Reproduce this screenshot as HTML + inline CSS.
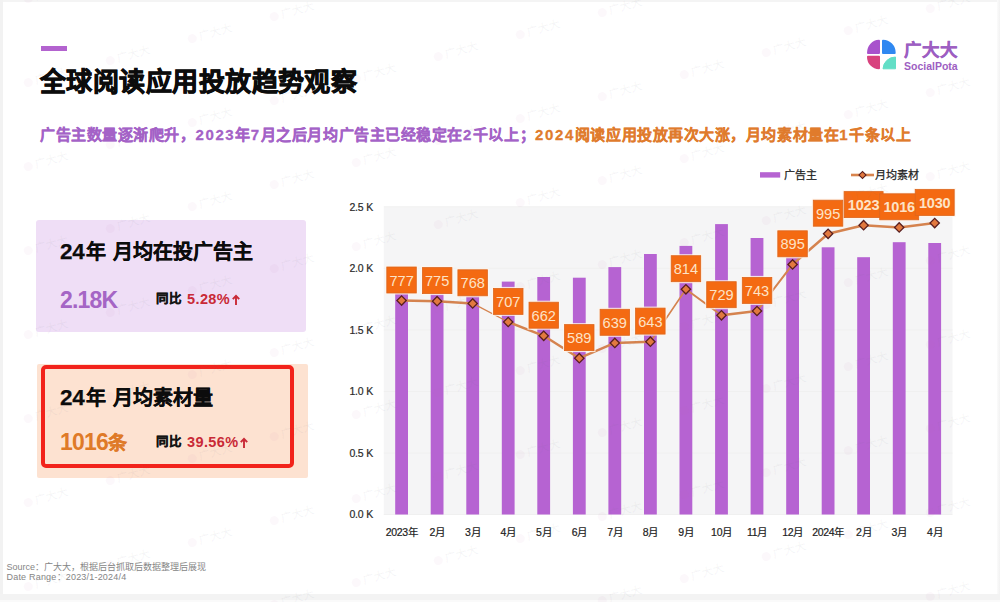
<!DOCTYPE html>
<html lang="zh-CN"><head><meta charset="utf-8">
<style>
*{margin:0;padding:0;box-sizing:border-box}
html,body{width:1000px;height:602px;overflow:hidden;background:#fff}
body{position:relative;font-family:"Liberation Sans",sans-serif;color:#111}
.abs{position:absolute;white-space:nowrap}
.frame-t{position:absolute;left:0;top:0;width:1000px;height:1.5px;background:#f4f4f4}
.frame-l{position:absolute;left:0;top:0;width:2.5px;height:602px;background:#f2f2f2}
.frame-r{position:absolute;right:0;top:0;width:3px;height:602px;background:linear-gradient(90deg,#fbfbfb,#f2f2f2)}
.frame-b{position:absolute;left:0;top:594px;width:1000px;height:8px;background:#f3f3f3;border-bottom:2.5px solid #fafafa}
.bar{left:41px;top:45.5px;width:25.5px;height:5px;background:#b363cf}
.title{left:40px;top:64px;font-size:26px;letter-spacing:0.45px;font-weight:700;-webkit-text-stroke:0.8px #0c0c0c;line-height:36px;color:#0c0c0c}
.sub{left:40px;top:124px;font-size:15px;letter-spacing:0.55px;font-weight:bold;line-height:22px;-webkit-text-stroke:0.28px currentColor}
.sub i{font-style:normal;letter-spacing:1.6px} .sub .p{color:#a462c7} .sub .o{color:#e07b2c}
.card1{left:36.3px;top:220.3px;width:270.2px;height:112px;background:#efdef6;border-radius:3px}
.card2{left:37px;top:364px;width:270.8px;height:114.3px;background:#fde2d1;border-radius:2px}
.card2b{left:41.3px;top:365px;width:252.8px;height:102.9px;border:4.2px solid #f2231b;border-radius:5px}
.ct b{font-size:22.5px;letter-spacing:-0.2px;margin-right:1.5px} .sp{display:inline-block;width:7px} .ct{font-size:20px;letter-spacing:0px;font-weight:bold;line-height:24px;color:#0c0c0c;-webkit-text-stroke:0.25px #0c0c0c}
.big{font-size:23px;font-weight:bold;line-height:28px;letter-spacing:-0.8px} .tiao{font-size:19px;letter-spacing:0;-webkit-text-stroke:0.3px currentColor;margin-left:0px;vertical-align:0px}
.tb{font-size:12.5px;font-weight:bold;line-height:18px;color:#141414;-webkit-text-stroke:0.35px #141414}
.red{color:#c92a37;font-size:14.5px;font-weight:bold;line-height:18px;letter-spacing:0.4px} .red svg{display:inline-block;vertical-align:-0.5px;margin-left:1.5px}
.foot{left:6.5px;font-size:9px;line-height:11px;color:#858585}
svg text{font-family:"Liberation Sans",sans-serif}
.yl{font-size:10.5px;fill:#2a2a2a;stroke:#2a2a2a;stroke-width:0.2px;letter-spacing:-0.2px}
.xl{font-size:10.5px;fill:#222;stroke:#222;stroke-width:0.2px;letter-spacing:-0.3px}
.lb3{font-size:14.6px;fill:#fde3c6;letter-spacing:0px}
.lb4{font-size:14.5px;font-weight:bold;fill:#fde3c6;letter-spacing:-0.2px}
.lg{font-size:11px;fill:#222;stroke:#222;stroke-width:0.25px}
.wm{position:absolute;width:48px;height:14px;font-size:11px;line-height:14px;color:rgba(110,110,130,0.06);transform:rotate(-15deg);white-space:nowrap;font-weight:bold} .wm i{display:inline-block;width:9px;height:9px;border-radius:50%;background:rgba(200,120,170,0.05);margin-right:3px;vertical-align:-1px}
.logo-t{left:904px;top:37.5px;font-size:17.5px;font-weight:bold;color:#9d5ec2;line-height:24px;letter-spacing:0.8px;-webkit-text-stroke:0.3px #9d5ec2}
.logo-s{left:904px;top:59.5px;font-size:10.5px;font-weight:bold;color:#9d5ec2;line-height:12px}
</style></head><body>
<div class="frame-t"></div><div class="frame-l"></div><div class="frame-r"></div><div class="frame-b"></div>
<div class="abs bar"></div>
<div class="abs title">全球阅读应用投放趋势观察</div>
<div class="abs sub"><span class="p">广告主数量逐渐爬升，<i>2023</i>年<i>7</i>月之后月均广告主已经稳定在<i>2</i>千以上；</span><span class="o"><i>2024</i>阅读应用投放再次大涨，月均素材量在<i>1</i>千条以上</span></div>

<svg class="abs" style="left:862px;top:35px" width="40" height="40" viewBox="0 0 40 40">
<g stroke-width="2" stroke-linejoin="round">
<path d="M17,18 L6,18 A11,12.3 0 0 1 17,5.7 Z" fill="#a852cc" stroke="#a852cc"/>
<path d="M21,18 L21,5.7 A11.7,12.3 0 0 1 32.7,18 Z" fill="#2f88f1" stroke="#2f88f1"/>
<path d="M17,21.7 L6,21.7 A11,11.6 0 0 0 17,33.3 Z" fill="#d8437e" stroke="#d8437e"/>
<path d="M33.5,22 A12.5,12.3 0 0 0 21,33.8 L33.5,33.8 Z" fill="#62dec6" stroke="#62dec6" stroke-width="1"/>
</g>
</svg>
<div class="abs logo-t">广大大</div>
<div class="abs logo-s">SocialPota</div>

<div class="abs card1"></div>
<div class="abs ct" style="left:60px;top:240px"><b>24</b>年<span class="sp"></span>月均在投广告主</div>
<div class="abs big" style="left:60px;top:286px;color:#a565c5">2.18K</div>
<div class="abs tb" style="left:156px;top:290px">同比</div>
<div class="abs red" style="left:187px;top:290px">5.28%<svg width="8" height="11" viewBox="0 0 8 11"><path d="M4 11 V2 M0.8 5.2 L4 1.8 L7.2 5.2" fill="none" stroke="#c92a37" stroke-width="1.9"/></svg></div>

<div class="abs card2"></div>
<div class="abs card2b"></div>
<div class="abs ct" style="left:60px;top:386px"><b>24</b>年<span class="sp"></span>月均素材量</div>
<div class="abs big" style="left:60px;top:428px;color:#df7a28">1016<span class="tiao">条</span></div>
<div class="abs tb" style="left:156px;top:433px">同比</div>
<div class="abs red" style="left:187px;top:433px">39.56%<svg width="8" height="11" viewBox="0 0 8 11"><path d="M4 11 V2 M0.8 5.2 L4 1.8 L7.2 5.2" fill="none" stroke="#c92a37" stroke-width="1.9"/></svg></div>

<svg class="abs" style="left:0;top:0" width="1000" height="602" viewBox="0 0 1000 602">
<rect x="383.8" y="206.8" width="568.7" height="307.7" fill="#f5f5f6"/>
<line x1="383.8" x2="952.5" y1="514.5" y2="514.5" stroke="#f0f0f0" stroke-width="1"/>
<text x="373" y="518.3" text-anchor="end" class="yl">0.0 K</text>
<line x1="383.8" x2="952.5" y1="453.0" y2="453.0" stroke="#f0f0f0" stroke-width="1"/>
<text x="373" y="456.8" text-anchor="end" class="yl">0.5 K</text>
<line x1="383.8" x2="952.5" y1="391.4" y2="391.4" stroke="#f0f0f0" stroke-width="1"/>
<text x="373" y="395.2" text-anchor="end" class="yl">1.0 K</text>
<line x1="383.8" x2="952.5" y1="329.9" y2="329.9" stroke="#f0f0f0" stroke-width="1"/>
<text x="373" y="333.7" text-anchor="end" class="yl">1.5 K</text>
<line x1="383.8" x2="952.5" y1="268.3" y2="268.3" stroke="#f0f0f0" stroke-width="1"/>
<text x="373" y="272.1" text-anchor="end" class="yl">2.0 K</text>
<line x1="383.8" x2="952.5" y1="206.8" y2="206.8" stroke="#f0f0f0" stroke-width="1"/>
<text x="373" y="210.6" text-anchor="end" class="yl">2.5 K</text>
<rect x="395.2" y="278" width="12.8" height="236.5" fill="#b663d2"/>
<text x="401.6" y="536" text-anchor="middle" class="xl">2023年</text>
<rect x="430.7" y="279" width="12.8" height="235.5" fill="#b663d2"/>
<text x="437.1" y="536" text-anchor="middle" class="xl">2月</text>
<rect x="466.3" y="281" width="12.8" height="233.5" fill="#b663d2"/>
<text x="472.7" y="536" text-anchor="middle" class="xl">3月</text>
<rect x="501.8" y="281.6" width="12.8" height="232.9" fill="#b663d2"/>
<text x="508.2" y="536" text-anchor="middle" class="xl">4月</text>
<rect x="537.3" y="277" width="12.8" height="237.5" fill="#b663d2"/>
<text x="543.7" y="536" text-anchor="middle" class="xl">5月</text>
<rect x="572.9" y="277.7" width="12.8" height="236.8" fill="#b663d2"/>
<text x="579.3" y="536" text-anchor="middle" class="xl">6月</text>
<rect x="608.4" y="267.1" width="12.8" height="247.4" fill="#b663d2"/>
<text x="614.8" y="536" text-anchor="middle" class="xl">7月</text>
<rect x="644.0" y="254" width="12.8" height="260.5" fill="#b663d2"/>
<text x="650.4" y="536" text-anchor="middle" class="xl">8月</text>
<rect x="679.5" y="245.9" width="12.8" height="268.6" fill="#b663d2"/>
<text x="685.9" y="536" text-anchor="middle" class="xl">9月</text>
<rect x="715.1" y="224.1" width="12.8" height="290.4" fill="#b663d2"/>
<text x="721.5" y="536" text-anchor="middle" class="xl">10月</text>
<rect x="750.6" y="238" width="12.8" height="276.5" fill="#b663d2"/>
<text x="757.0" y="536" text-anchor="middle" class="xl">11月</text>
<rect x="786.2" y="250" width="12.8" height="264.5" fill="#b663d2"/>
<text x="792.6" y="536" text-anchor="middle" class="xl">12月</text>
<rect x="821.7" y="247.3" width="12.8" height="267.2" fill="#b663d2"/>
<text x="828.1" y="536" text-anchor="middle" class="xl">2024年</text>
<rect x="857.2" y="257.2" width="12.8" height="257.3" fill="#b663d2"/>
<text x="863.6" y="536" text-anchor="middle" class="xl">2月</text>
<rect x="892.8" y="242.2" width="12.8" height="272.3" fill="#b663d2"/>
<text x="899.2" y="536" text-anchor="middle" class="xl">3月</text>
<rect x="928.3" y="243" width="12.8" height="271.5" fill="#b663d2"/>
<text x="934.7" y="536" text-anchor="middle" class="xl">4月</text>
<line x1="401.6" y1="300.6" x2="437.1" y2="301.2" stroke="#d5834f" stroke-width="2.5" stroke-linecap="round"/>
<line x1="437.1" y1="301.2" x2="472.7" y2="303.4" stroke="#d5834f" stroke-width="2.5" stroke-linecap="round"/>
<line x1="472.7" y1="303.4" x2="508.2" y2="322.0" stroke="#d5834f" stroke-width="1.3" stroke-linecap="round"/>
<line x1="508.2" y1="322.0" x2="543.7" y2="335.8" stroke="#d5834f" stroke-width="2.5" stroke-linecap="round"/>
<line x1="543.7" y1="335.8" x2="579.3" y2="358.2" stroke="#d5834f" stroke-width="2.5" stroke-linecap="round"/>
<line x1="579.3" y1="358.2" x2="614.8" y2="342.9" stroke="#d5834f" stroke-width="2.5" stroke-linecap="round"/>
<line x1="614.8" y1="342.9" x2="650.4" y2="341.7" stroke="#d5834f" stroke-width="2.5" stroke-linecap="round"/>
<line x1="650.4" y1="341.7" x2="685.9" y2="289.3" stroke="#d5834f" stroke-width="1.6" stroke-linecap="round"/>
<line x1="685.9" y1="289.3" x2="721.5" y2="315.3" stroke="#d5834f" stroke-width="2.0" stroke-linecap="round"/>
<line x1="721.5" y1="315.3" x2="757.0" y2="311.0" stroke="#d5834f" stroke-width="2.5" stroke-linecap="round"/>
<line x1="757.0" y1="311.0" x2="792.6" y2="264.4" stroke="#d5834f" stroke-width="2.0" stroke-linecap="round"/>
<line x1="792.6" y1="264.4" x2="828.1" y2="233.8" stroke="#d5834f" stroke-width="2.5" stroke-linecap="round"/>
<line x1="828.1" y1="233.8" x2="863.6" y2="225.2" stroke="#d5834f" stroke-width="2.5" stroke-linecap="round"/>
<line x1="863.6" y1="225.2" x2="899.2" y2="227.4" stroke="#d5834f" stroke-width="2.5" stroke-linecap="round"/>
<line x1="899.2" y1="227.4" x2="934.7" y2="223.1" stroke="#d5834f" stroke-width="2.5" stroke-linecap="round"/>
<rect x="398.3" y="297.3" width="6.6" height="6.6" transform="rotate(45 401.6 300.6)" fill="#e2793f" stroke="#5a1f1f" stroke-width="1.3"/>
<rect x="433.8" y="297.9" width="6.6" height="6.6" transform="rotate(45 437.1 301.2)" fill="#e2793f" stroke="#5a1f1f" stroke-width="1.3"/>
<rect x="469.4" y="300.1" width="6.6" height="6.6" transform="rotate(45 472.7 303.4)" fill="#e2793f" stroke="#5a1f1f" stroke-width="1.3"/>
<rect x="504.9" y="318.7" width="6.6" height="6.6" transform="rotate(45 508.2 322.0)" fill="#e2793f" stroke="#5a1f1f" stroke-width="1.3"/>
<rect x="540.4" y="332.5" width="6.6" height="6.6" transform="rotate(45 543.7 335.8)" fill="#e2793f" stroke="#5a1f1f" stroke-width="1.3"/>
<rect x="576.0" y="354.9" width="6.6" height="6.6" transform="rotate(45 579.3 358.2)" fill="#e2793f" stroke="#5a1f1f" stroke-width="1.3"/>
<rect x="611.5" y="339.6" width="6.6" height="6.6" transform="rotate(45 614.8 342.9)" fill="#e2793f" stroke="#5a1f1f" stroke-width="1.3"/>
<rect x="647.1" y="338.4" width="6.6" height="6.6" transform="rotate(45 650.4 341.7)" fill="#e2793f" stroke="#5a1f1f" stroke-width="1.3"/>
<rect x="682.6" y="286.0" width="6.6" height="6.6" transform="rotate(45 685.9 289.3)" fill="#e2793f" stroke="#5a1f1f" stroke-width="1.3"/>
<rect x="718.2" y="312.0" width="6.6" height="6.6" transform="rotate(45 721.5 315.3)" fill="#e2793f" stroke="#5a1f1f" stroke-width="1.3"/>
<rect x="753.7" y="307.7" width="6.6" height="6.6" transform="rotate(45 757.0 311.0)" fill="#e2793f" stroke="#5a1f1f" stroke-width="1.3"/>
<rect x="789.3" y="261.1" width="6.6" height="6.6" transform="rotate(45 792.6 264.4)" fill="#e2793f" stroke="#5a1f1f" stroke-width="1.3"/>
<rect x="824.8" y="230.5" width="6.6" height="6.6" transform="rotate(45 828.1 233.8)" fill="#e2793f" stroke="#5a1f1f" stroke-width="1.3"/>
<rect x="860.3" y="221.9" width="6.6" height="6.6" transform="rotate(45 863.6 225.2)" fill="#e2793f" stroke="#5a1f1f" stroke-width="1.3"/>
<rect x="895.9" y="224.1" width="6.6" height="6.6" transform="rotate(45 899.2 227.4)" fill="#e2793f" stroke="#5a1f1f" stroke-width="1.3"/>
<rect x="931.4" y="219.8" width="6.6" height="6.6" transform="rotate(45 934.7 223.1)" fill="#e2793f" stroke="#5a1f1f" stroke-width="1.3"/>
<rect x="385.3" y="265.5" width="32.5" height="29" fill="#fff6ec" opacity="0.85"/>
<rect x="420.9" y="266.1" width="32.5" height="29" fill="#fff6ec" opacity="0.85"/>
<rect x="456.4" y="268.3" width="32.5" height="29" fill="#fff6ec" opacity="0.85"/>
<rect x="492.0" y="286.9" width="32.5" height="29" fill="#fff6ec" opacity="0.85"/>
<rect x="527.5" y="300.7" width="32.5" height="29" fill="#fff6ec" opacity="0.85"/>
<rect x="563.0" y="323.1" width="32.5" height="29" fill="#fff6ec" opacity="0.85"/>
<rect x="598.6" y="307.8" width="32.5" height="29" fill="#fff6ec" opacity="0.85"/>
<rect x="634.1" y="306.6" width="32.5" height="29" fill="#fff6ec" opacity="0.85"/>
<rect x="669.7" y="254.2" width="32.5" height="29" fill="#fff6ec" opacity="0.85"/>
<rect x="705.2" y="280.2" width="32.5" height="29" fill="#fff6ec" opacity="0.85"/>
<rect x="740.8" y="275.9" width="32.5" height="29" fill="#fff6ec" opacity="0.85"/>
<rect x="776.3" y="229.3" width="32.5" height="29" fill="#fff6ec" opacity="0.85"/>
<rect x="811.8" y="198.7" width="32.5" height="29" fill="#fff6ec" opacity="0.85"/>
<rect x="842.6" y="190.1" width="42" height="29" fill="#fff6ec" opacity="0.85"/>
<rect x="878.2" y="192.3" width="42" height="29" fill="#fff6ec" opacity="0.85"/>
<rect x="913.7" y="188.0" width="42" height="29" fill="#fff6ec" opacity="0.85"/>
<rect x="386.8" y="267.0" width="29.5" height="26" fill="#f46a12" stroke="#dc661e" stroke-width="0.8"/>
<rect x="422.4" y="267.6" width="29.5" height="26" fill="#f46a12" stroke="#dc661e" stroke-width="0.8"/>
<rect x="457.9" y="269.8" width="29.5" height="26" fill="#f46a12" stroke="#dc661e" stroke-width="0.8"/>
<rect x="493.5" y="288.4" width="29.5" height="26" fill="#f46a12" stroke="#dc661e" stroke-width="0.8"/>
<rect x="529.0" y="302.2" width="29.5" height="26" fill="#f46a12" stroke="#dc661e" stroke-width="0.8"/>
<rect x="564.5" y="324.6" width="29.5" height="26" fill="#f46a12" stroke="#dc661e" stroke-width="0.8"/>
<rect x="600.1" y="309.3" width="29.5" height="26" fill="#f46a12" stroke="#dc661e" stroke-width="0.8"/>
<rect x="635.6" y="308.1" width="29.5" height="26" fill="#f46a12" stroke="#dc661e" stroke-width="0.8"/>
<rect x="671.2" y="255.7" width="29.5" height="26" fill="#f46a12" stroke="#dc661e" stroke-width="0.8"/>
<rect x="706.7" y="281.7" width="29.5" height="26" fill="#f46a12" stroke="#dc661e" stroke-width="0.8"/>
<rect x="742.3" y="277.4" width="29.5" height="26" fill="#f46a12" stroke="#dc661e" stroke-width="0.8"/>
<rect x="777.8" y="230.8" width="29.5" height="26" fill="#f46a12" stroke="#dc661e" stroke-width="0.8"/>
<rect x="813.3" y="200.2" width="29.5" height="26" fill="#f46a12" stroke="#dc661e" stroke-width="0.8"/>
<rect x="844.1" y="191.6" width="39" height="26" fill="#f46a12" stroke="#dc661e" stroke-width="0.8"/>
<rect x="879.7" y="193.8" width="39" height="26" fill="#f46a12" stroke="#dc661e" stroke-width="0.8"/>
<rect x="915.2" y="189.5" width="39" height="26" fill="#f46a12" stroke="#dc661e" stroke-width="0.8"/>
<text x="401.6" y="285.6" text-anchor="middle" class="lb3">777</text>
<text x="437.1" y="286.2" text-anchor="middle" class="lb3">775</text>
<text x="472.7" y="288.4" text-anchor="middle" class="lb3">768</text>
<text x="508.2" y="307.0" text-anchor="middle" class="lb3">707</text>
<text x="543.7" y="320.8" text-anchor="middle" class="lb3">662</text>
<text x="579.3" y="343.2" text-anchor="middle" class="lb3">589</text>
<text x="614.8" y="327.9" text-anchor="middle" class="lb3">639</text>
<text x="650.4" y="326.7" text-anchor="middle" class="lb3">643</text>
<text x="685.9" y="274.3" text-anchor="middle" class="lb3">814</text>
<text x="721.5" y="300.3" text-anchor="middle" class="lb3">729</text>
<text x="757.0" y="296.0" text-anchor="middle" class="lb3">743</text>
<text x="792.6" y="249.4" text-anchor="middle" class="lb3">895</text>
<text x="828.1" y="218.8" text-anchor="middle" class="lb3">995</text>
<text x="863.6" y="210.2" text-anchor="middle" class="lb4">1023</text>
<text x="899.2" y="212.4" text-anchor="middle" class="lb4">1016</text>
<text x="934.7" y="208.1" text-anchor="middle" class="lb4">1030</text>
<rect x="760" y="172.2" width="20.2" height="5.4" fill="#b663d2"/>
<text x="784" y="179.2" class="lg">广告主</text>
<line x1="851" x2="874" y1="175" y2="175" stroke="#d9854e" stroke-width="2.6"/>
<rect x="860" y="172.5" width="5" height="5" transform="rotate(45 862.5 175)" fill="#e2793f" stroke="#5a1f1f" stroke-width="1.1"/>
<text x="875" y="179.2" class="lg">月均素材</text>
</svg>

<div class="wm" style="left:925px;top:-4px"><i></i>广大大</div>
<div class="wm" style="left:925px;top:80px"><i></i>广大大</div>
<div class="wm" style="left:925px;top:164px"><i></i>广大大</div>
<div class="wm" style="left:925px;top:248px"><i></i>广大大</div>
<div class="wm" style="left:925px;top:332px"><i></i>广大大</div>
<div class="wm" style="left:925px;top:416px"><i></i>广大大</div>
<div class="wm" style="left:925px;top:500px"><i></i>广大大</div>
<div class="wm" style="left:925px;top:584px"><i></i>广大大</div>
<div class="wm" style="left:843px;top:18px"><i></i>广大大</div>
<div class="wm" style="left:843px;top:102px"><i></i>广大大</div>
<div class="wm" style="left:843px;top:186px"><i></i>广大大</div>
<div class="wm" style="left:843px;top:270px"><i></i>广大大</div>
<div class="wm" style="left:843px;top:354px"><i></i>广大大</div>
<div class="wm" style="left:843px;top:438px"><i></i>广大大</div>
<div class="wm" style="left:843px;top:522px"><i></i>广大大</div>
<div class="wm" style="left:843px;top:606px"><i></i>广大大</div>
<div class="wm" style="left:761px;top:40px"><i></i>广大大</div>
<div class="wm" style="left:761px;top:124px"><i></i>广大大</div>
<div class="wm" style="left:761px;top:208px"><i></i>广大大</div>
<div class="wm" style="left:761px;top:292px"><i></i>广大大</div>
<div class="wm" style="left:761px;top:376px"><i></i>广大大</div>
<div class="wm" style="left:761px;top:460px"><i></i>广大大</div>
<div class="wm" style="left:761px;top:544px"><i></i>广大大</div>
<div class="wm" style="left:679px;top:-22px"><i></i>广大大</div>
<div class="wm" style="left:679px;top:62px"><i></i>广大大</div>
<div class="wm" style="left:679px;top:146px"><i></i>广大大</div>
<div class="wm" style="left:679px;top:230px"><i></i>广大大</div>
<div class="wm" style="left:679px;top:314px"><i></i>广大大</div>
<div class="wm" style="left:679px;top:398px"><i></i>广大大</div>
<div class="wm" style="left:679px;top:482px"><i></i>广大大</div>
<div class="wm" style="left:679px;top:566px"><i></i>广大大</div>
<div class="wm" style="left:597px;top:0px"><i></i>广大大</div>
<div class="wm" style="left:597px;top:84px"><i></i>广大大</div>
<div class="wm" style="left:597px;top:168px"><i></i>广大大</div>
<div class="wm" style="left:597px;top:252px"><i></i>广大大</div>
<div class="wm" style="left:597px;top:336px"><i></i>广大大</div>
<div class="wm" style="left:597px;top:420px"><i></i>广大大</div>
<div class="wm" style="left:597px;top:504px"><i></i>广大大</div>
<div class="wm" style="left:597px;top:588px"><i></i>广大大</div>
<div class="wm" style="left:515px;top:22px"><i></i>广大大</div>
<div class="wm" style="left:515px;top:106px"><i></i>广大大</div>
<div class="wm" style="left:515px;top:190px"><i></i>广大大</div>
<div class="wm" style="left:515px;top:274px"><i></i>广大大</div>
<div class="wm" style="left:515px;top:358px"><i></i>广大大</div>
<div class="wm" style="left:515px;top:442px"><i></i>广大大</div>
<div class="wm" style="left:515px;top:526px"><i></i>广大大</div>
<div class="wm" style="left:433px;top:44px"><i></i>广大大</div>
<div class="wm" style="left:433px;top:128px"><i></i>广大大</div>
<div class="wm" style="left:433px;top:212px"><i></i>广大大</div>
<div class="wm" style="left:433px;top:296px"><i></i>广大大</div>
<div class="wm" style="left:433px;top:380px"><i></i>广大大</div>
<div class="wm" style="left:433px;top:464px"><i></i>广大大</div>
<div class="wm" style="left:433px;top:548px"><i></i>广大大</div>
<div class="wm" style="left:351px;top:-18px"><i></i>广大大</div>
<div class="wm" style="left:351px;top:66px"><i></i>广大大</div>
<div class="wm" style="left:351px;top:150px"><i></i>广大大</div>
<div class="wm" style="left:351px;top:234px"><i></i>广大大</div>
<div class="wm" style="left:351px;top:318px"><i></i>广大大</div>
<div class="wm" style="left:351px;top:402px"><i></i>广大大</div>
<div class="wm" style="left:351px;top:486px"><i></i>广大大</div>
<div class="wm" style="left:351px;top:570px"><i></i>广大大</div>
<div class="wm" style="left:269px;top:4px"><i></i>广大大</div>
<div class="wm" style="left:269px;top:88px"><i></i>广大大</div>
<div class="wm" style="left:269px;top:172px"><i></i>广大大</div>
<div class="wm" style="left:269px;top:256px"><i></i>广大大</div>
<div class="wm" style="left:269px;top:340px"><i></i>广大大</div>
<div class="wm" style="left:269px;top:424px"><i></i>广大大</div>
<div class="wm" style="left:269px;top:508px"><i></i>广大大</div>
<div class="wm" style="left:269px;top:592px"><i></i>广大大</div>
<div class="wm" style="left:187px;top:26px"><i></i>广大大</div>
<div class="wm" style="left:187px;top:110px"><i></i>广大大</div>
<div class="wm" style="left:187px;top:194px"><i></i>广大大</div>
<div class="wm" style="left:187px;top:278px"><i></i>广大大</div>
<div class="wm" style="left:187px;top:362px"><i></i>广大大</div>
<div class="wm" style="left:187px;top:446px"><i></i>广大大</div>
<div class="wm" style="left:187px;top:530px"><i></i>广大大</div>
<div class="wm" style="left:105px;top:48px"><i></i>广大大</div>
<div class="wm" style="left:105px;top:132px"><i></i>广大大</div>
<div class="wm" style="left:105px;top:216px"><i></i>广大大</div>
<div class="wm" style="left:105px;top:300px"><i></i>广大大</div>
<div class="wm" style="left:105px;top:384px"><i></i>广大大</div>
<div class="wm" style="left:105px;top:468px"><i></i>广大大</div>
<div class="wm" style="left:105px;top:552px"><i></i>广大大</div>
<div class="wm" style="left:23px;top:-14px"><i></i>广大大</div>
<div class="wm" style="left:23px;top:70px"><i></i>广大大</div>
<div class="wm" style="left:23px;top:154px"><i></i>广大大</div>
<div class="wm" style="left:23px;top:238px"><i></i>广大大</div>
<div class="wm" style="left:23px;top:322px"><i></i>广大大</div>
<div class="wm" style="left:23px;top:406px"><i></i>广大大</div>
<div class="wm" style="left:23px;top:490px"><i></i>广大大</div>
<div class="wm" style="left:23px;top:574px"><i></i>广大大</div>
<div class="abs foot" style="top:561.5px">Source：广大大，根据后台抓取后数据整理后展现</div>
<div class="abs foot" style="top:572px;letter-spacing:0.2px">Date Range：2023/1-2024/4</div>
</body></html>
